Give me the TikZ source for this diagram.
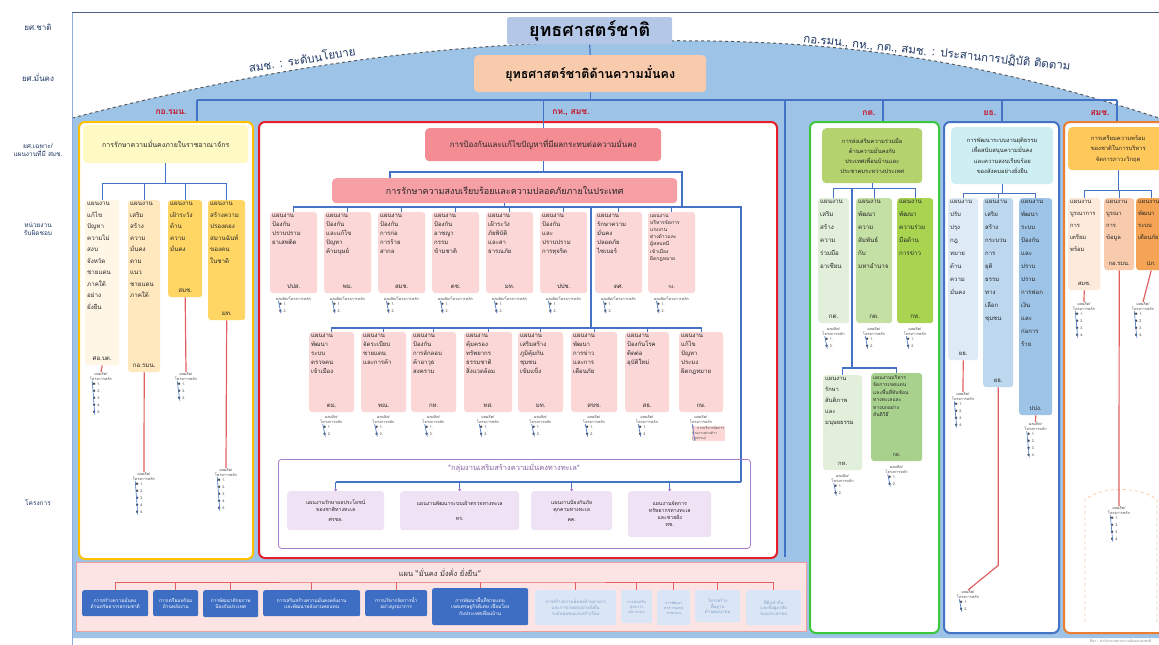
\documentclass[tikz,border=0pt]{standalone}
\usepackage{fontspec}
\newfontfamily\thai[Script=Thai]{Loma}
\usetikzlibrary{calc,arrows.meta}

\definecolor{skyfill}{RGB}{157,195,230}
\definecolor{linkblue}{RGB}{68,114,196}
\definecolor{navytext}{RGB}{31,56,100}
\definecolor{titleblue}{RGB}{180,199,231}
\definecolor{secpeach}{RGB}{248,203,173}
\definecolor{framegold}{RGB}{255,192,0}
\definecolor{framered}{RGB}{230,30,40}
\definecolor{framegreen}{RGB}{60,200,60}
\definecolor{frameblue}{RGB}{68,114,196}
\definecolor{frameorange}{RGB}{237,125,49}
\definecolor{linkred}{RGB}{226,96,96}
\definecolor{labelred}{RGB}{200,20,40}
\definecolor{yhead}{RGB}{255,250,196}
\definecolor{ypale}{RGB}{255,246,230}
\definecolor{ylight}{RGB}{255,232,190}
\definecolor{ygold}{RGB}{255,214,100}
\definecolor{rhead}{RGB}{244,140,148}
\definecolor{rsub}{RGB}{246,160,166}
\definecolor{rbox}{RGB}{252,215,215}
\definecolor{plilac}{RGB}{238,226,244}
\definecolor{pframe}{RGB}{168,124,200}
\definecolor{ghead}{RGB}{180,210,110}
\definecolor{gpale}{RGB}{226,239,218}
\definecolor{gmid}{RGB}{197,224,165}
\definecolor{gbright}{RGB}{168,212,80}
\definecolor{gdeep}{RGB}{169,209,142}
\definecolor{bhead}{RGB}{205,238,242}
\definecolor{bpale}{RGB}{222,235,247}
\definecolor{bmid}{RGB}{189,215,238}
\definecolor{bdeep}{RGB}{157,195,230}
\definecolor{ohead}{RGB}{255,200,90}
\definecolor{opale}{RGB}{253,234,218}
\definecolor{omid}{RGB}{248,203,173}
\definecolor{odeep}{RGB}{244,164,84}
\definecolor{kfill}{RGB}{252,228,228}
\definecolor{kframe}{RGB}{241,156,156}
\definecolor{kblue}{RGB}{61,110,196}
\definecolor{kpale}{RGB}{218,230,245}
\definecolor{kgrey}{RGB}{130,158,198}

\tikzset{
  colframe/.style={draw, line width=2pt, rounded corners=6pt, fill=white, anchor=north west, inner sep=0pt},
  head/.style={anchor=north west, rounded corners=4pt, inner sep=1pt, align=center, text=black!85},
  ubox/.style={anchor=north west, rounded corners=3pt, inner sep=2pt, text=black!85},
  pbox/.style={anchor=north west, rounded corners=3pt, inner sep=1pt, align=center, fill=plilac, text=black!85, font=\thai\fontsize{5.2}{7}\selectfont},
  kbox/.style={anchor=north west, rounded corners=2pt, inner sep=1pt, align=center, font=\thai\fontsize{4.8}{6}\selectfont},
  tree/.style={draw=linkblue, line width=1.2pt},
  redlink/.style={draw=linkred, line width=1.2pt},
  capnote/.style={anchor=north, inner sep=0.5pt, align=center, text=black!70, font=\thai\fontsize{3.8}{4.6}\selectfont},
  itemnote/.style={anchor=north west, inner sep=0.5pt, align=left, text=black!70, font=\thai\fontsize{3.6}{7}\selectfont},
  collabel/.style={text=labelred, font=\thai\bfseries\fontsize{8.5}{9}\selectfont},
  sidelabel/.style={text=navytext, align=center, font=\thai\fontsize{8}{10}\selectfont}
}

% box text: outer width, outer height, text, agency
\newcommand{\ut}[4]{\parbox[t][\dimexpr#2pt-4pt\relax][t]{\dimexpr#1pt-4pt\relax}{\raggedright#3\par\vfill\centering#4\par\vspace{3pt}}}
% caption and bullet list under a box
\newcommand{\projlist}[6][]{%
  \node[capnote] (#2) at (#3,#4) {#5};
  \node[itemnote,#1] (#2x) at ([xshift=2.5pt,yshift=-1.5pt]#2.south west) {#6};
  \draw[linkblue, line width=0.6pt] ([xshift=3pt]#2.south west) -- ([xshift=3pt]#2x.south west);
}
\newcommand{\pcap}{ผลผลิต/\\โครงการหลัก}
\newcommand{\ltwo}{$\bullet$ 1.\\$\bullet$ 2.}
\newcommand{\lthree}{$\bullet$ 1.\\$\bullet$ 2.\\$\bullet$ 3.}
\newcommand{\lfour}{$\bullet$ 1.\\$\bullet$ 2.\\$\bullet$ 3.\\$\bullet$ 4.}
\newcommand{\lfive}{$\bullet$ 1.\\$\bullet$ 2.\\$\bullet$ 3.\\$\bullet$ 4.\\$\bullet$ 5.}

\begin{document}
\begin{tikzpicture}[x=1pt,y=-1pt]
  \useasboundingbox (0,0) rectangle (1159,645);
  %\draw [help lines, step=50] (0,0) grid (1159,645);
  \fill[skyfill] (72,118) .. controls (250,72) and (420,44) .. (600,42) .. controls (800,36) and (950,50) .. (1159,118) -- (1159,638) -- (72,638) -- cycle;
  \draw[black!65, dashed, line width=1pt] (72,118) .. controls (250,72) and (420,44) .. (600,42) .. controls (800,36) and (950,50) .. (1159,118);
  \draw[navytext!80, double, double distance=1pt, line width=0.6pt] (72,13) -- (1159,13);
  \draw[linkblue!60, line width=1pt] (72,13) -- (72,645);

  \node[sidelabel] (lnat) at (38,27) {ยศ.ชาติ};
  \node[sidelabel] (lsec) at (38,77) {ยศ.มั่นคง};
  \node[sidelabel, font=\thai\fontsize{6.5}{8.5}\selectfont] (lplan) at (38,150) {ยศ.เฉพาะ/\\แผนงานที่มี สมช.};
  \node[sidelabel, font=\thai\fontsize{6.5}{8.5}\selectfont] (lagency) at (38,229) {หน่วยงาน\\รับผิดชอบ};
  \node[sidelabel, font=\thai\fontsize{6.5}{8.5}\selectfont] (lproj) at (38,503) {โครงการ};

  \node[text=navytext, font=\thai\fontsize{11.5}{12}\selectfont, rotate=9] (lpolicy) at (302,59) {สมช. : ระดับนโยบาย};
  \node[text=navytext, font=\thai\fontsize{11.5}{12}\selectfont, rotate=-6] (lcoord) at (937,53) {กอ.รมน., กห., กต., สมช. : ประสานการปฏิบัติ ติดตาม};

  \node[anchor=north west, fill=titleblue, rounded corners=2pt, minimum width=165pt, minimum height=26pt, font=\thai\bfseries\fontsize{18}{19}\selectfont] (tnat) at (507,17) {ยุทธศาสตร์ชาติ};
  \node[anchor=north west, fill=secpeach, rounded corners=4pt, minimum width=232pt, minimum height=37pt, font=\thai\bfseries\fontsize{12.5}{13}\selectfont] (tsec) at (474,55) {ยุทธศาสตร์ชาติด้านความมั่นคง};
  \draw[tree] (tnat.south) -- (tsec.north);

  \node[colframe, draw=framegold, minimum width=174pt, minimum height=437pt] (colY) at (78,121) {};
  \node[colframe, draw=framered, minimum width=518pt, minimum height=436pt] (colR) at (258,121) {};
  \node[colframe, draw=framegreen, minimum width=129pt, minimum height=511pt] (colG) at (809,121) {};
  \node[colframe, draw=frameblue, minimum width=115pt, minimum height=511pt] (colB) at (943,121) {};
  \node[colframe, draw=frameorange, minimum width=120pt, minimum height=511pt] (colO) at (1063,121) {};

  \coordinate (busL) at (197,100);
  \coordinate (busR) at (1117,100);
  \coordinate (sepT) at (785,100);
  \coordinate (sepB) at (785,557);
  \coordinate (gtop) at (883,100);
  \coordinate (btop) at (1002,100);
  \draw[tree] (tsec.south) -- (tsec.south |- busL);
  \draw[tree] (busL) -- (busR);
  \draw[tree] (busL) -- (busL |- colY.north);
  \draw[tree] (sepT) -- (sepB);
  \draw[tree] (gtop) -- (gtop |- colG.north);
  \draw[tree] (btop) -- (btop |- colB.north);
  \draw[tree] (busR) -- (busR |- colO.north);

  \node[collabel] (cY) at (171,112) {กอ.รมน.};
  \node[collabel] (cR) at (571,113) {กห., สมช.};
  \node[collabel] (cG) at (869,113) {กต.};
  \node[collabel] (cB) at (990,113) {ยธ.};
  \node[collabel] (cO) at (1100,113) {สมช.};

  % yellow column
  \node[head, fill=yhead, minimum width=165pt, minimum height=38pt, font=\thai\fontsize{7}{8}\selectfont] (yH) at (83,125) {การรักษาความมั่นคงภายในราชอาณาจักร};
  \node[ubox, fill=ypale, font=\thai\fontsize{6.2}{11.5}\selectfont] (y1) at (85,200) {\ut{34}{165}{แผนงาน\\แก้ไข\\ปัญหา\\ความไม่\\สงบ\\จังหวัด\\ชายแดน\\ภาคใต้\\อย่าง\\ยั่งยืน}{ศอ.บต.}};
  \node[ubox, fill=ylight, font=\thai\fontsize{6.2}{11.5}\selectfont] (y2) at (128,200) {\ut{32}{172}{แผนงาน\\เสริม\\สร้าง\\ความ\\มั่นคง\\ตาม\\แนว\\ชายแดน\\ภาคใต้}{กอ.รมน.}};
  \node[ubox, fill=ygold, font=\thai\fontsize{6.2}{11.5}\selectfont] (y3) at (168,200) {\ut{34}{97}{แผนงาน\\เฝ้าระวัง\\ด้าน\\ความ\\มั่นคง}{สมช.}};
  \node[ubox, fill=ygold, font=\thai\fontsize{6.2}{11.5}\selectfont] (y4) at (208,200) {\ut{37}{120}{แผนงาน\\สร้างความ\\ปรองดอง\\สมานฉันท์\\ของคน\\ในชาติ}{มท.}};
  \coordinate (yj) at ($(yH.south)+(0,20)$);
  \draw[tree] (yH.south) -- (yj);
  \draw[tree] (y1.north) |- (yj) -| (y4.north);
  \draw[tree] (y2.north) -- (y2.north |- yj);
  \draw[tree] (y3.north) -- (y3.north |- yj);
  \projlist{py1}{101}{372}{\pcap}{\lfive}
  \projlist{py2}{144}{472}{\pcap}{\lfive}
  \projlist{py3}{186}{372}{\pcap}{\lthree}
  \projlist{py4}{226}{468}{\pcap}{\lfive}
  \draw[redlink] (y1.south) -- (py1.north);
  \draw[redlink] (y2.south) -- (py2.north);
  \draw[redlink] (y3.south) -- (py3.north);
  \draw[redlink] (y4.south) -- (py4.north);

  % red column
  \node[head, fill=rhead, minimum width=236pt, minimum height=33pt, font=\thai\fontsize{8}{9}\selectfont] (rH1) at (425,128) {การป้องกันและแก้ไขปัญหาที่มีผลกระทบต่อความมั่นคง};
  \node[head, fill=rsub, minimum width=345pt, minimum height=25pt, font=\thai\fontsize{9}{10}\selectfont] (rH2) at (332,178) {การรักษาความสงบเรียบร้อยและความปลอดภัยภายในประเทศ};
  \draw[tree] (rH1.north) -- (rH1.north |- busL);
  \coordinate (rj0) at (390,172);
  \coordinate (rj1) at (682,172);
  \coordinate (rbusR) at (741,207);
  \coordinate (rdown) at (741,482);
  \draw[tree] (rH1.south) |- (rj0) -- (rj0 |- rH2.north);
  \draw[tree] (rH1.south) |- (rj1) -- (rj1 |- rbusR);

  \node[ubox, fill=rbox, font=\thai\fontsize{6}{9}\selectfont] (r11) at (270,212) {\ut{47}{81}{แผนงาน\\ป้องกัน\\ปราบปราม\\ยาเสพติด}{ปปส.}};
  \node[ubox, fill=rbox, font=\thai\fontsize{6}{9}\selectfont] (r12) at (324,212) {\ut{47}{81}{แผนงาน\\ป้องกัน\\และแก้ไข\\ปัญหา\\ค้ามนุษย์}{พม.}};
  \node[ubox, fill=rbox, font=\thai\fontsize{6}{9}\selectfont] (r13) at (378,212) {\ut{47}{81}{แผนงาน\\ป้องกัน\\การก่อ\\การร้าย\\สากล}{สมช.}};
  \node[ubox, fill=rbox, font=\thai\fontsize{6}{9}\selectfont] (r14) at (432,212) {\ut{47}{81}{แผนงาน\\ป้องกัน\\อาชญา\\กรรม\\ข้ามชาติ}{ตช.}};
  \node[ubox, fill=rbox, font=\thai\fontsize{6}{9}\selectfont] (r15) at (486,212) {\ut{47}{81}{แผนงาน\\เฝ้าระวัง\\ภัยพิบัติ\\และสา\\ธารณภัย}{มท.}};
  \node[ubox, fill=rbox, font=\thai\fontsize{6}{9}\selectfont] (r16) at (540,212) {\ut{47}{81}{แผนงาน\\ป้องกัน\\และ\\ปราบปราม\\การทุจริต}{ปปช.}};
  \node[ubox, fill=rbox, font=\thai\fontsize{6}{9}\selectfont] (r17) at (595,212) {\ut{47}{81}{แผนงาน\\รักษาความ\\มั่นคง\\ปลอดภัย\\ไซเบอร์}{ดศ.}};
  \node[ubox, fill=rbox, font=\thai\fontsize{5}{7.2}\selectfont] (r18) at (648,212) {\ut{47}{81}{แผนงาน\\บริหารจัดการ\\แรงงาน\\ต่างด้าวและ\\ผู้หลบหนี\\เข้าเมือง\\ผิดกฎหมาย}{รง.}};
  \draw[tree] (rH2.south) -- (rH2.south |- rbusR);
  \draw[tree] (r11.north) |- (rbusR) -- (rdown);
  \draw[tree] (r12.north) -- (r12.north |- rbusR);
  \draw[tree] (r13.north) -- (r13.north |- rbusR);
  \draw[tree] (r14.north) -- (r14.north |- rbusR);
  \draw[tree] (r15.north) -- (r15.north |- rbusR);
  \draw[tree] (r16.north) -- (r16.north |- rbusR);
  \draw[tree] (r17.north) -- (r17.north |- rbusR);
  \draw[tree] (r18.north) -- (r18.north |- rbusR);
  \projlist{pr11}{293.5}{296}{ผลผลิต/โครงการหลัก}{\ltwo}
  \projlist{pr12}{347.5}{296}{ผลผลิต/โครงการหลัก}{\ltwo}
  \projlist{pr13}{401.5}{296}{ผลผลิต/โครงการหลัก}{\ltwo}
  \projlist{pr14}{455.5}{296}{ผลผลิต/โครงการหลัก}{\ltwo}
  \projlist{pr15}{509.5}{296}{ผลผลิต/โครงการหลัก}{\ltwo}
  \projlist{pr16}{563.5}{296}{ผลผลิต/โครงการหลัก}{\ltwo}
  \projlist{pr17}{618.5}{296}{ผลผลิต/โครงการหลัก}{\ltwo}
  \projlist{pr18}{671.5}{296}{ผลผลิต/โครงการหลัก}{\ltwo}

  \coordinate (r2j) at (591,328);
  \node[ubox, fill=rbox, font=\thai\fontsize{6}{9}\selectfont] (r21) at (309,332) {\ut{45}{80}{แผนงาน\\พัฒนา\\ระบบ\\ตรวจคน\\เข้าเมือง}{ตม.}};
  \node[ubox, fill=rbox, font=\thai\fontsize{6}{9}\selectfont] (r22) at (361,332) {\ut{45}{80}{แผนงาน\\จัดระเบียบ\\ชายแดน\\และการค้า}{พณ.}};
  \node[ubox, fill=rbox, font=\thai\fontsize{6}{9}\selectfont] (r23) at (411,332) {\ut{45}{80}{แผนงาน\\ป้องกัน\\การลักลอบ\\ค้าอาวุธ\\สงคราม}{กห.}};
  \node[ubox, fill=rbox, font=\thai\fontsize{6}{9}\selectfont] (r24) at (464,332) {\ut{48}{80}{แผนงาน\\คุ้มครอง\\ทรัพยากร\\ธรรมชาติ\\สิ่งแวดล้อม}{ทส.}};
  \node[ubox, fill=rbox, font=\thai\fontsize{6}{9}\selectfont] (r25) at (518,332) {\ut{45}{80}{แผนงาน\\เสริมสร้าง\\ภูมิคุ้มกัน\\ชุมชน\\เข้มแข็ง}{มท.}};
  \node[ubox, fill=rbox, font=\thai\fontsize{6}{9}\selectfont] (r26) at (571,332) {\ut{46}{80}{แผนงาน\\พัฒนา\\การข่าว\\และการ\\เตือนภัย}{สขช.}};
  \node[ubox, fill=rbox, font=\thai\fontsize{6}{9}\selectfont] (r27) at (625,332) {\ut{44}{80}{แผนงาน\\ป้องกันโรค\\ติดต่อ\\อุบัติใหม่}{สธ.}};
  \node[ubox, fill=rbox, font=\thai\fontsize{6}{9}\selectfont] (r28) at (679,332) {\ut{44}{80}{แผนงาน\\แก้ไข\\ปัญหา\\ประมง\\ผิดกฎหมาย}{กษ.}};
  \draw[tree] (r2j |- rbusR) -- (r2j);
  \draw[tree] (r21.north) |- (r2j) -| (r28.north);
  \draw[tree] (r22.north) -- (r22.north |- r2j);
  \draw[tree] (r23.north) -- (r23.north |- r2j);
  \draw[tree] (r24.north) -- (r24.north |- r2j);
  \draw[tree] (r25.north) -- (r25.north |- r2j);
  \draw[tree] (r26.north) -- (r26.north |- r2j);
  \draw[tree] (r27.north) -- (r27.north |- r2j);
  \projlist{pr21}{331.5}{415}{\pcap}{\ltwo}
  \projlist{pr22}{383.5}{415}{\pcap}{\ltwo}
  \projlist{pr23}{433.5}{415}{\pcap}{\ltwo}
  \projlist{pr24}{488}{415}{\pcap}{\ltwo}
  \projlist{pr25}{540.5}{415}{\pcap}{\ltwo}
  \projlist{pr26}{594}{415}{\pcap}{\ltwo}
  \projlist{pr27}{647}{415}{\pcap}{\ltwo}
  \projlist[fill=rbox, font=\thai\fontsize{3.6}{5}\selectfont]{pr28}{701}{415}{\pcap}{1. การบริหารจัดการ\\แรงงานต่างด้าว\\(ทุกกรม)}

  \node[anchor=north west, draw=pframe, line width=0.8pt, rounded corners=3pt, minimum width=472pt, minimum height=89pt] (pG) at (278,459) {};
  \node[text=pframe!80!black, font=\thai\fontsize{7.5}{8}\selectfont] (pT) at (514,468) {*กลุ่มงานเสริมสร้างความมั่นคงทางทะเล*};
  \node[pbox, minimum width=97pt, minimum height=39pt] (p1) at (287,491) {แผนงานรักษาผลประโยชน์\\ของชาติทางทะเล\\[3pt]ศรชล.};
  \node[pbox, minimum width=119pt, minimum height=39pt] (p2) at (400,491) {แผนงานพัฒนาระบบเฝ้าตรวจทางทะเล\\[8pt]ทร.};
  \node[pbox, minimum width=81pt, minimum height=39pt] (p3) at (531,491) {แผนงานป้องกันภัย\\คุกคามทางทะเล\\[3pt]คค.};
  \node[pbox, minimum width=83pt, minimum height=46pt] (p4) at (628,491) {แผนงานจัดการ\\ทรัพยากรทางทะเล\\และชายฝั่ง\\ทช.};
  \draw[tree] (p1.north |- rdown) -- (rdown);
  \draw[tree, -{Circle[length=2.5pt, color=pframe]}] (p1.north |- rdown) -- (p1.north);
  \draw[tree, -{Circle[length=2.5pt, color=pframe]}] (p2.north |- rdown) -- (p2.north);
  \draw[tree, -{Circle[length=2.5pt, color=pframe]}] (p3.north |- rdown) -- (p3.north);
  \draw[tree, -{Circle[length=2.5pt, color=pframe]}] (p4.north |- rdown) -- (p4.north);

  % green column
  \node[head, fill=ghead, minimum width=100pt, minimum height=55pt, font=\thai\fontsize{5.8}{10}\selectfont] (gH) at (822,128) {การส่งเสริมความร่วมมือ\\ด้านความมั่นคงกับ\\ประเทศเพื่อนบ้านและ\\ประชาคมระหว่างประเทศ};
  \node[ubox, fill=gpale, font=\thai\fontsize{6.2}{13}\selectfont] (g1) at (818,198) {\ut{31}{125}{แผนงาน\\เสริม\\สร้าง\\ความ\\ร่วมมือ\\อาเซียน}{กต.}};
  \node[ubox, fill=gmid, font=\thai\fontsize{6.2}{13}\selectfont] (g2) at (856,198) {\ut{36}{125}{แผนงาน\\พัฒนา\\ความ\\สัมพันธ์\\กับ\\มหาอำนาจ}{กต.}};
  \node[ubox, fill=gbright, font=\thai\fontsize{6.2}{13}\selectfont] (g3) at (897,198) {\ut{36}{125}{แผนงาน\\พัฒนา\\ความร่วม\\มือด้าน\\การข่าว}{กห.}};
  \coordinate (gj) at ($(gH.south)+(0,5)$);
  \coordinate (gv) at (852,368);
  \draw[tree] (gH.south) -- (gj);
  \draw[tree] (g1.north) |- (gj) -| (g3.north);
  \draw[tree] (g2.north) -- (g2.north |- gj);
  \draw[tree] (gv |- gj) -- (gv);
  \node[ubox, fill=gpale, font=\thai\fontsize{5.8}{11}\selectfont] (g4) at (823,375) {\ut{39}{95}{แผนงาน\\รักษา\\สันติภาพ\\และ\\มนุษยธรรม}{กห.}};
  \node[ubox, fill=gdeep, font=\thai\fontsize{5}{7.5}\selectfont] (g5) at (871,373) {\ut{51}{88}{แผนงานบริหาร\\จัดการเขตแดน\\และพื้นที่ทับซ้อน\\ทางทะเลและ\\ทางบกอย่าง\\สันติวิธี}{กต.}};
  \draw[tree] (g4.north) |- (gv) -| (g5.north);
  \projlist{pg1}{833.5}{327}{\pcap}{\ltwo}
  \projlist{pg2}{874}{327}{\pcap}{\ltwo}
  \projlist{pg3}{915}{327}{\pcap}{\ltwo}
  \projlist{pg4}{842.5}{474}{\pcap}{\ltwo}
  \projlist{pg5}{896.5}{465}{\pcap}{\ltwo}

  % blue column
  \node[head, fill=bhead, minimum width=102pt, minimum height=57pt, font=\thai\fontsize{5.8}{10.5}\selectfont] (bH) at (951,127) {การพัฒนาระบบงานยุติธรรม\\เพื่อสนับสนุนความมั่นคง\\และความสงบเรียบร้อย\\ของสังคมอย่างยั่งยืน};
  \node[ubox, fill=bpale, font=\thai\fontsize{6}{13}\selectfont] (b1) at (948,198) {\ut{30}{162}{แผนงาน\\ปรับ\\ปรุง\\กฎ\\หมาย\\ด้าน\\ความ\\มั่นคง}{ยธ.}};
  \node[ubox, fill=bmid, font=\thai\fontsize{6}{13}\selectfont] (b2) at (983,198) {\ut{30}{189}{แผนงาน\\เสริม\\สร้าง\\กระบวน\\การ\\ยุติ\\ธรรม\\ทาง\\เลือก\\ชุมชน}{ยธ.}};
  \node[ubox, fill=bdeep, font=\thai\fontsize{6}{13}\selectfont] (b3) at (1019,198) {\ut{33}{217}{แผนงาน\\พัฒนา\\ระบบ\\ป้องกัน\\และ\\ปราบ\\ปราม\\การฟอก\\เงิน\\และ\\ก่อการ\\ร้าย}{ปปง.}};
  \coordinate (bj) at ($(bH.south)+(0,9)$);
  \draw[tree] (bH.south) -- (bj);
  \draw[tree] (b1.north) |- (bj) -| (b3.north);
  \draw[tree] (b2.north) -- (b2.north |- bj);
  \projlist{pb1}{963}{392}{\pcap}{\lfour}
  \projlist{pb2}{968}{590}{\pcap}{\ltwo}
  \projlist{pb3}{1035.5}{422}{\pcap}{\lfour}
  \draw[redlink] (b1.south) -- (pb1.north);
  \draw[redlink] (b2.south) -- ++(0,178) -- (pb2.north);
  \draw[redlink] (b3.south) -- (pb3.north);

  % orange column
  \node[head, fill=ohead, minimum width=100pt, minimum height=43pt, font=\thai\fontsize{5.8}{10.5}\selectfont] (oH) at (1068,127) {การเตรียมความพร้อม\\ของชาติในการบริหาร\\จัดการภาวะวิกฤต};
  \node[ubox, fill=opale, font=\thai\fontsize{5.8}{12}\selectfont] (o1) at (1068,198) {\ut{32}{92}{แผนงาน\\บูรณาการ\\การ\\เตรียม\\พร้อม}{สมช.}};
  \node[ubox, fill=omid, font=\thai\fontsize{5.8}{12}\selectfont] (o2) at (1104,198) {\ut{30}{72}{แผนงาน\\บูรณา\\การ\\ข้อมูล}{กอ.รมน.}};
  \node[ubox, fill=odeep, font=\thai\fontsize{5.8}{12}\selectfont] (o3) at (1136,198) {\ut{30}{72}{แผนงาน\\พัฒนา\\ระบบ\\เตือนภัย}{ปภ.}};
  \coordinate (oj) at ($(oH.south)+(0,20)$);
  \draw[tree] (oH.south) -- (oj);
  \draw[tree] (o1.north) |- (oj) -| (o3.north);
  \draw[tree] (o2.north) -- (o2.north |- oj);
  \draw[dashed, omid, line width=0.8pt] (1085,622) -- (1085,500) .. controls (1100,486) and (1142,486) .. (1157,500) -- (1157,622);
  \projlist{po1}{1084}{302}{\pcap}{\lfour}
  \projlist{po2}{1119}{506}{\pcap}{\lfour}
  \projlist{po3}{1143}{302}{\pcap}{\lfour}
  \draw[redlink] (o1.south) -- (po1.north);
  \draw[redlink] (o2.south) -- (po2.north);
  \draw[redlink] (o3.south) -- (po3.north);

  % bottom group
  \node[anchor=north west, fill=kfill, draw=kframe, line width=1.2pt, minimum width=730pt, minimum height=69pt] (kG) at (76,562) {};
  \node[font=\thai\fontsize{7.5}{8}\selectfont, text=black!80] (kT) at (440,573) {แผน “มั่นคง มั่งคั่ง ยั่งยืน”};
  \coordinate (kj) at (440,582);
  \node[kbox, fill=kblue, text=white, minimum width=66pt, minimum height=26pt] (k1) at (82,590) {การสร้างความมั่นคง\\ด้านทรัพยากรธรรมชาติ};
  \node[kbox, fill=kblue, text=white, minimum width=45pt, minimum height=26pt] (k2) at (153,590) {การเตรียมพร้อม\\ด้านพลังงาน};
  \node[kbox, fill=kblue, text=white, minimum width=55pt, minimum height=27pt] (k3) at (203,590) {การพัฒนาศักยภาพ\\ป้องกันประเทศ};
  \node[kbox, fill=kblue, text=white, minimum width=97pt, minimum height=26pt] (k4) at (263,590) {การเสริมสร้างความมั่นคงพลังงาน\\และพัฒนาพลังงานทดแทน};
  \node[kbox, fill=kblue, text=white, minimum width=62pt, minimum height=26pt] (k5) at (365,590) {การบริหารจัดการน้ำ\\อย่างบูรณาการ};
  \node[kbox, fill=kblue, text=white, minimum width=96pt, minimum height=37pt] (k6) at (432,588) {การพัฒนาพื้นที่ชายแดน\\เขตเศรษฐกิจพิเศษ เชื่อมโยง\\กับประเทศเพื่อนบ้าน};
  \node[kbox, fill=kpale, text=kgrey, minimum width=81pt, minimum height=35pt, font=\thai\fontsize{4.4}{5.8}\selectfont] (k7) at (535,590) {การสร้างความมั่นคงด้านอาหาร\\และการเกษตรอย่างยั่งยืน\\ระดับชุมชนและครัวเรือน};
  \node[kbox, fill=kpale, text=kgrey, minimum width=31pt, minimum height=33pt, font=\thai\fontsize{3.8}{5.2}\selectfont] (k8) at (621,590) {การส่งเสริม\\สุขภาวะ\\ประชาชน};
  \node[kbox, fill=kpale, text=kgrey, minimum width=33pt, minimum height=35pt, font=\thai\fontsize{3.8}{5.2}\selectfont] (k9) at (657,590) {การพัฒนา\\สาธารณสุข\\ชายแดน};
  \node[kbox, fill=kpale, text=kgrey, minimum width=45pt, minimum height=32pt, font=\thai\fontsize{4.4}{5.8}\selectfont] (k10) at (695,590) {โครงสร้าง\\พื้นฐาน\\ด้านคมนาคม};
  \node[kbox, fill=kpale, text=kgrey, minimum width=55pt, minimum height=35pt, font=\thai\fontsize{4.4}{5.8}\selectfont] (k11) at (746,590) {ที่ดินทำกิน\\และที่อยู่อาศัย\\ของประชาชน};
  \draw[redlink, line width=1pt] (k1.north) |- (kj) -| (k11.north);
  \draw[redlink, line width=1pt] (k2.north) -- (k2.north |- kj);
  \draw[redlink, line width=1pt] (k3.north) -- (k3.north |- kj);
  \draw[redlink, line width=1pt] (k4.north) -- (k4.north |- kj);
  \draw[redlink, line width=1pt] (k5.north) -- (k5.north |- kj);
  \draw[redlink, line width=1pt] (k6.north) -- (k6.north |- kj);
  \draw[redlink, line width=1pt] (k7.north) -- (k7.north |- kj);
  \draw[redlink, line width=1pt] (k8.north) -- (k8.north |- kj);
  \draw[redlink, line width=1pt] (k9.north) -- (k9.north |- kj);
  \draw[redlink, line width=1pt] (k10.north) -- (k10.north |- kj);

  \node[anchor=east, text=black!50, font=\thai\fontsize{3.5}{4}\selectfont] (src) at (1155,641) {ที่มา : สำนักงานสภาความมั่นคงแห่งชาติ};
\end{tikzpicture}
\end{document}
